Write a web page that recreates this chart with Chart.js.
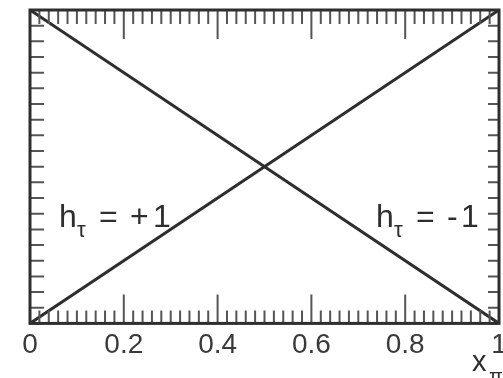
<!DOCTYPE html>
<html>
<head>
<meta charset="utf-8">
<script src="https://cdn.jsdelivr.net/npm/chart.js@4.4.1/dist/chart.umd.min.js"></script>
<style>
  html, body { margin: 0; padding: 0; background: #fff; }
  #wrap { width: 503px; height: 378px; position: relative; }
</style>
</head>
<body>
<div id="wrap"><canvas id="helicity"></canvas></div>
<script>
// x = E_pi / E_tau, distributions for both tau helicities
var xValues = [0, 1];
var plusOne = [0, 2];   // h = +1 : 2x
var minusOne = [2, 0];  // h = -1 : 2(1 - x)

var tickValues = [0, 0.2, 0.4, 0.6, 0.8, 1];
var tickLabels = ["0", "0.2", "0.4", "0.6", "0.8", "1"];

var ink = "#2e2e2e";
var font = "'Liberation Sans', Arial, Helvetica, sans-serif";

function pts(ys) {
    return xValues.map(function (x, i) { return { x: x, y: ys[i] }; });
}

// frame, inward ticks and the text labels
var framePlugin = {
    id: "frame",
    afterDatasetsDraw: function (chart) {
        var ctx = chart.ctx, a = chart.chartArea;
        var xs = chart.scales.x, ys = chart.scales.y;
        ctx.save();
        ctx.strokeStyle = "#555";
        ctx.lineWidth = 2;
        ctx.beginPath();
        xs.ticks.forEach(function (t) {
            var px = xs.getPixelForValue(t.value);
            var major = Math.abs(t.value * 5 - Math.round(t.value * 5)) < 1e-6;
            ctx.moveTo(px, a.bottom); ctx.lineTo(px, a.bottom - (major ? 29 : 13));
            ctx.moveTo(px, a.top); ctx.lineTo(px, a.top + (major ? 29 : 14));
        });
        ys.ticks.forEach(function (t) {
            var py = ys.getPixelForValue(t.value);
            ctx.moveTo(a.left, py); ctx.lineTo(a.left + 14, py);
            ctx.moveTo(a.right, py); ctx.lineTo(a.right - 11, py);
        });
        ctx.stroke();

        ctx.strokeStyle = ink;
        ctx.lineWidth = 3;
        ctx.strokeRect(a.left, a.top, a.right - a.left, a.bottom - a.top);

        ctx.fillStyle = ink;
        ctx.textBaseline = "alphabetic";
        function label(x0, sign) {
            var base = 227;
            ctx.font = "32px " + font;
            ctx.fillText("h", x0, base);
            ctx.font = "22px " + font;
            ctx.fillText("\u03c4", x0 + 18, base + 10);
            ctx.font = "32px " + font;
            ctx.fillText("=", x0 + 40, base);
            ctx.fillText(sign, x0 + 71, base);
            ctx.fillText("1", x0 + (sign === "+" ? 94 : 85), base);
        }
        label(a.left + 29, "+");
        label(a.left + 346, "-");

        ctx.font = "29px " + font;
        ctx.fillText("x", a.left + 442, 371);
        ctx.font = "20px " + font;
        ctx.fillText("\u03c0", a.left + 459, 383);
        ctx.restore();
    }
};

new Chart(document.getElementById("helicity").getContext("2d"), {
    type: "line",
    data: {
        datasets: [{
            label: "h = +1",
            data: pts(plusOne),
            borderColor: ink,
            borderWidth: 3,
            pointRadius: 0
        }, {
            label: "h = -1",
            data: pts(minusOne),
            borderColor: ink,
            borderWidth: 3,
            pointRadius: 0
        }]
    },
    options: {
        responsive: true,
        maintainAspectRatio: false,
        animation: false,
        layout: { padding: { left: 22, right: 4, top: 10, bottom: 19 } },
        plugins: { legend: { display: false }, tooltip: { enabled: false } },
        scales: {
            x: {
                type: "linear",
                min: 0,
                max: 1,
                grid: { display: false },
                border: { display: false },
                ticks: {
                    stepSize: 0.02,
                    autoSkip: false,
                    maxRotation: 0,
                    padding: -3,
                    color: "#3a3a3a",
                    font: { family: font, size: 28 },
                    callback: function (v) {
                        for (var i = 0; i < tickValues.length; i++) {
                            if (Math.abs(v - tickValues[i]) < 1e-6) return tickLabels[i];
                        }
                        return "";
                    }
                },
                afterFit: function (scale) {
                    scale.paddingLeft = 0;
                    scale.paddingRight = 0;
                }
            },
            y: {
                min: 0,
                max: 2,
                grid: { display: false },
                border: { display: false },
                ticks: { stepSize: 0.1, display: false }
            }
        }
    },
    plugins: [framePlugin]
});
</script>
</body>
</html>
